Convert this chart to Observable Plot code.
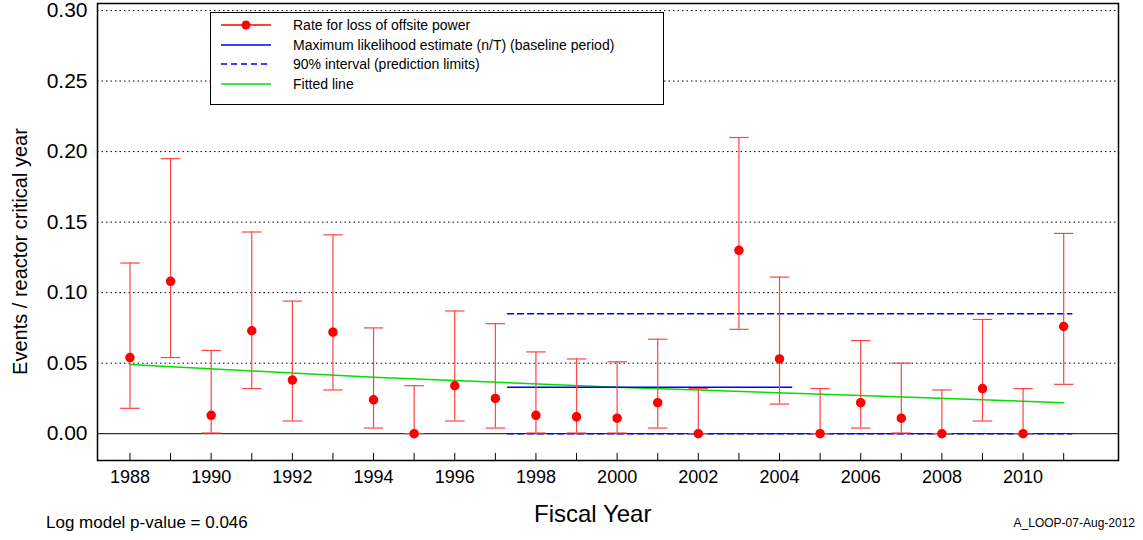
<!DOCTYPE html>
<html><head>
<script src="https://cdn.jsdelivr.net/npm/d3@7"></script>
<script src="https://cdn.jsdelivr.net/npm/@observablehq/plot@0.6"></script>
<style>
body{margin:0;background:#fff;font-family:"Liberation Sans",Arial,sans-serif}
#wrap{position:relative;width:1143px;height:540px}
.t{position:absolute;white-space:nowrap;color:#000}
#legend{position:absolute;left:210px;top:12px;width:452px;height:91px;border:1.5px solid #000;background:#fff;font-size:14px}
.row{position:absolute;left:0;height:18px;display:flex;align-items:center}
.row svg{margin-left:10px;margin-right:22px}
</style></head><body>
<div id="wrap"></div>
<script>
const years=[1988,1989,1990,1991,1992,1993,1994,1995,1996,1997,1998,1999,2000,2001,2002,2003,2004,2005,2006,2007,2008,2009,2010,2011];
const rates=[0.054,0.108,0.013,0.073,0.038,0.072,0.024,0,0.034,0.025,0.013,0.012,0.011,0.022,0,0.130,0.053,0,0.022,0.011,0,0.032,0,0.076];
const lower=[0.018,0.054,0.0005,0.032,0.009,0.031,0.004,0,0.009,0.004,0.0005,0.0005,0.0005,0.004,0,0.074,0.021,0,0.004,0.0005,0,0.009,0,0.035];
const upper=[0.121,0.195,0.059,0.143,0.094,0.141,0.075,0.034,0.087,0.078,0.058,0.053,0.051,0.067,0.032,0.210,0.111,0.032,0.066,0.050,0.031,0.081,0.032,0.142];
const mleX=[1997.3,2004.3], mleY=0.033;
const predX=[1997.3,2011.2], predUpper=0.085, predLower=0;
const fitYears=[1988,1994,2000,2006,2011];
const fitVals=[0.049,0.040,0.033,0.027,0.022];
const yTicks=[0.05,0.1,0.15,0.2,0.25,0.3];
const xTicks=[1988,1990,1992,1994,1996,1998,2000,2002,2004,2006,2008,2010];

const data=years.map((y,i)=>({year:y,rate:rates[i],lo:lower[i],hi:upper[i]}));
const fit=fitYears.map((y,i)=>({year:y,v:fitVals[i]}));
const yBottom=-0.019;
const plot=Plot.plot({
  width:1143,height:540,marginLeft:97,marginRight:25,marginTop:3,marginBottom:80,
  style:{fontFamily:"Liberation Sans, Arial",fontSize:"20px",color:"#000",background:"transparent"},
  x:{domain:[1987.2,2012.35]},
  y:{domain:[yBottom,0.305]},
  marks:[
    Plot.ruleY(yTicks,{stroke:"#000",strokeDasharray:"1.5,3",strokeWidth:1}),
    Plot.ruleY([0],{stroke:"#000",strokeWidth:1}),
    Plot.frame({stroke:"#000",strokeWidth:1.5}),
    Plot.ruleX(years,{x:d=>d,y1:yBottom,y2:-0.014,stroke:"#000",strokeWidth:1}),
    Plot.line(fit,{x:"year",y:"v",stroke:"#00e000",strokeWidth:1.5}),
    Plot.line(predX.map(x=>({x,y:predUpper})),{x:"x",y:"y",stroke:"blue",strokeDasharray:"6,4",strokeWidth:1.5}),
    Plot.line(predX.map(x=>({x,y:predLower})),{x:"x",y:"y",stroke:"blue",strokeDasharray:"6,4",strokeWidth:1.5}),
    Plot.line(mleX.map(x=>({x,y:mleY})),{x:"x",y:"y",stroke:"blue",strokeWidth:1.5}),
    Plot.ruleX(data,{x:"year",y1:"lo",y2:"hi",stroke:"#f44",strokeWidth:1.2}),
    Plot.link(data,{x1:d=>d.year-0.24,x2:d=>d.year+0.24,y1:"hi",y2:"hi",stroke:"#f44",strokeWidth:1.2}),
    Plot.link(data,{x1:d=>d.year-0.24,x2:d=>d.year+0.24,y1:"lo",y2:"lo",stroke:"#f44",strokeWidth:1.2}),
    Plot.dot(data,{x:"year",y:"rate",r:4,fill:"red",stroke:"red"}),
    Plot.axisX({ticks:xTicks,tickFormat:d=>String(d),tickSize:0,label:null,fontSize:18,tickPadding:10}),
    Plot.axisY({ticks:[0,...yTicks],tickFormat:d=>d.toFixed(2),tickSize:0,label:null,fontSize:21,tickPadding:10})
  ]
});
const wrap=document.getElementById("wrap");
wrap.appendChild(plot);
function txt(s,css){const d=document.createElement("div");d.className="t";d.textContent=s;d.style.cssText=css;wrap.appendChild(d);}
txt("Events / reactor critical year","left:2px;top:240px;font-size:20px;transform:translate(-112px,0) rotate(-90deg);transform-origin:center;width:260px;text-align:center");
txt("Fiscal Year","left:534px;top:500px;font-size:24px");
txt("Log model p-value = 0.046","left:46px;top:513px;font-size:17px");
txt("A_LOOP-07-Aug-2012","right:8px;top:516px;font-size:12px");
const lg=document.createElement("div");lg.id="legend";
const items=[
 ['<line x1="0" y1="9" x2="50" y2="9" stroke="red" stroke-width="1.5"/><circle cx="25" cy="9" r="4.5" fill="red"/>',"Rate for loss of offsite power"],
 ['<line x1="0" y1="9" x2="50" y2="9" stroke="blue" stroke-width="1.5"/>',"Maximum likelihood estimate (n/T) (baseline period)"],
 ['<line x1="0" y1="9" x2="50" y2="9" stroke="blue" stroke-width="1.5" stroke-dasharray="6,4"/>',"90% interval (prediction limits)"],
 ['<line x1="0" y1="9" x2="50" y2="9" stroke="#00e000" stroke-width="1.5"/>',"Fitted line"]];
items.forEach((it,i)=>{const r=document.createElement("div");r.className="row";r.style.top=(3+i*19.5)+"px";
 r.innerHTML='<svg width="50" height="18">'+it[0]+'</svg><span>'+it[1]+'</span>';lg.appendChild(r);});
wrap.appendChild(lg);
</script>
</body></html>
